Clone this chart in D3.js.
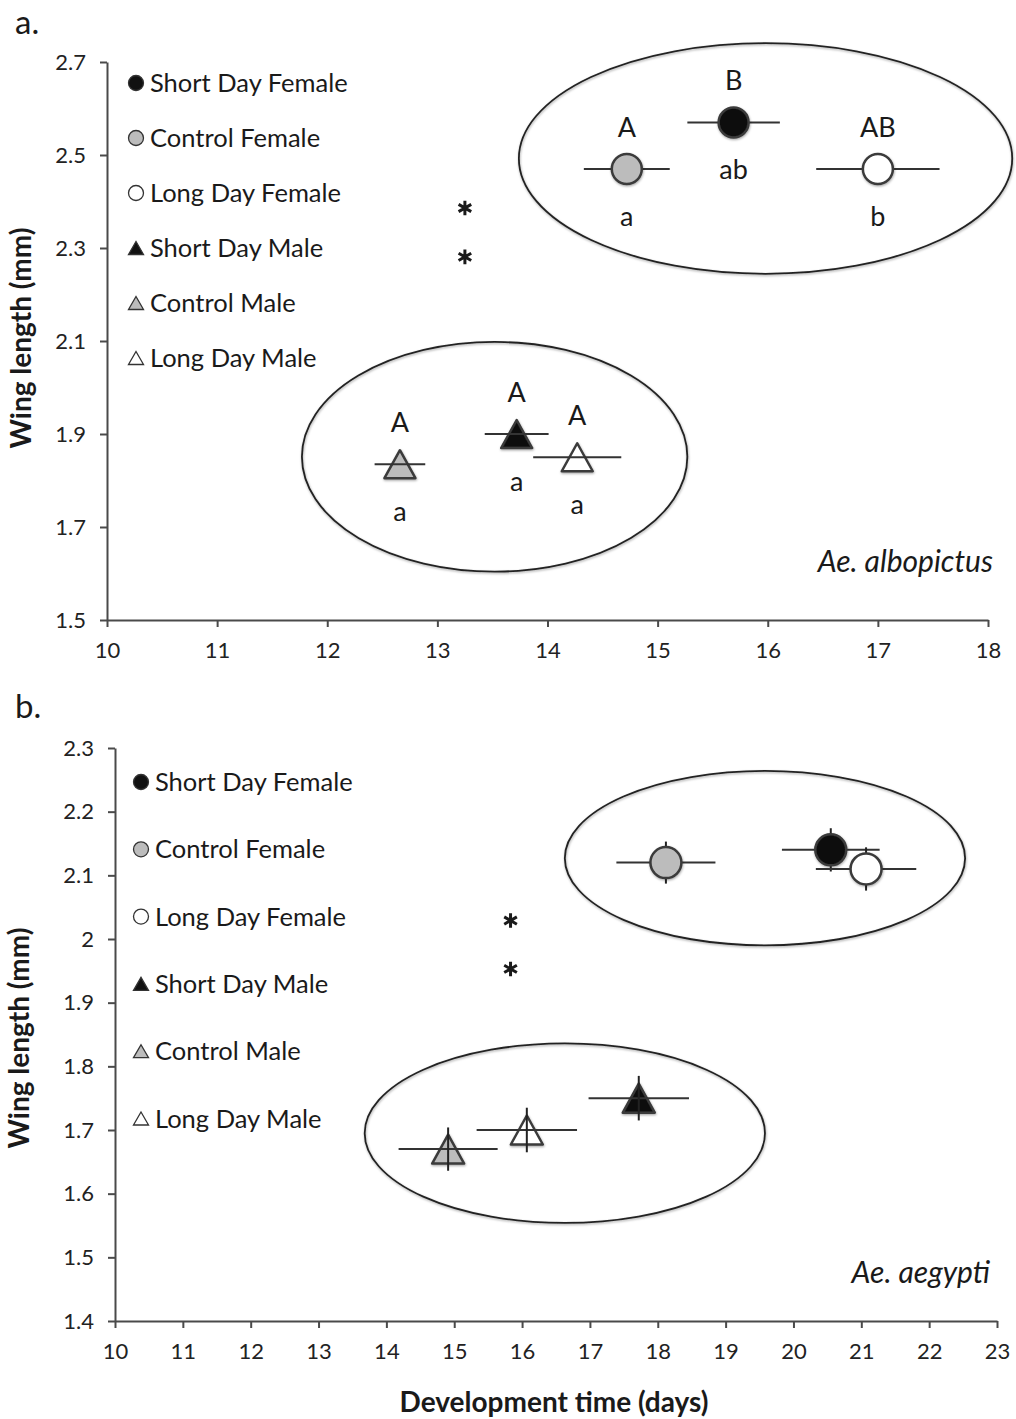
<!DOCTYPE html>
<html>
<head>
<meta charset="utf-8">
<script src="https://cdn.jsdelivr.net/npm/d3@7"></script>
<style>
  body { margin: 0; background: #fff; }
  svg text { font-family: Lato, "Open Sans", sans-serif; fill: #1a1a1a; }
  .axis path, .axis line { stroke: #4a4a4a; stroke-width: 2; }
  .axis text { font-size: 22px; fill: #222; }
</style>
</head>
<body>
<div id="chart"></div>
<script>
// groups, in legend order
const groups = ["Short Day Female", "Control Female", "Long Day Female",
                "Short Day Male", "Control Male", "Long Day Male"];

// a. Ae. albopictus
const alboDevTime = [15.69, 14.72, 17.0, 13.72, 12.66, 14.27];
const alboDevErr  = [0.42, 0.39, 0.56, 0.29, 0.23, 0.40];
const alboWing    = [2.57, 2.47, 2.47, 1.90, 1.835, 1.85];
const alboUpper   = ["B", "A", "AB", "A", "A", "A"];
const alboLower   = ["ab", "a", "b", "a", "a", "a"];
const alboXTicks  = [10, 11, 12, 13, 14, 15, 16, 17, 18];
const alboYTicks  = [1.5, 1.7, 1.9, 2.1, 2.3, 2.5, 2.7];

// b. Ae. aegypti
const aegDevTime = [20.55, 18.12, 21.07, 17.72, 14.91, 16.07];
const aegDevErr  = [0.72, 0.73, 0.74, 0.74, 0.73, 0.74];
const aegWing    = [2.14, 2.12, 2.11, 1.75, 1.67, 1.70];
const aegWingErr = [0.034, 0.033, 0.034, 0.035, 0.034, 0.035];
const aegXTicks  = [10, 11, 12, 13, 14, 15, 16, 17, 18, 19, 20, 21, 22, 23];
const aegYTicks  = [1.4, 1.5, 1.6, 1.7, 1.8, 1.9, 2.0, 2.1, 2.2, 2.3];

const width = 1016, height = 1419;

const svg = d3.select("#chart").append("svg")
  .attr("width", width)
  .attr("height", height);

const defs = svg.append("defs");
defs.append("filter").attr("id", "shadow")
  .attr("x", "-20%").attr("y", "-20%").attr("width", "140%").attr("height", "140%")
  .append("feDropShadow")
  .attr("dx", 0.5).attr("dy", 1.2).attr("stdDeviation", 1.2)
  .attr("flood-color", "#000").attr("flood-opacity", 0.35);

const fillFor = {
  "Short Day Female": "#111", "Control Female": "#bcbcbc", "Long Day Female": "#fff",
  "Short Day Male": "#111", "Control Male": "#bcbcbc", "Long Day Male": "#fff"
};
const isMale = g => g.endsWith("Male") && !g.endsWith("Female");

function triPath(w, h) {
  return `M0,${-h / 2}L${w / 2},${h / 2}L${-w / 2},${h / 2}Z`;
}

const star = d3.symbol(d3.symbolAsterisk, 150);

function drawPanel(p) {
  const x = d3.scaleLinear(p.xDomain, [p.left, p.right]);
  const y = d3.scaleLinear(p.yDomain, [p.bottom, p.top]);

  const pts = groups.map((g, i) => ({
    group: g,
    x: p.dev[i], xe: p.devErr[i],
    y: p.wing[i], ye: p.wingErr ? p.wingErr[i] : 0,
    upper: p.upper ? p.upper[i] : null,
    lower: p.lower ? p.lower[i] : null
  }));

  // panel letter
  svg.append("text")
    .attr("x", 15).attr("y", p.letterY)
    .attr("font-size", 33)
    .text(p.letter);

  // axes
  svg.append("g").attr("class", "axis")
    .attr("transform", `translate(0,${p.bottom})`)
    .call(d3.axisBottom(x).tickValues(p.xTicks).tickSize(7).tickPadding(15).tickSizeOuter(0));

  svg.append("g").attr("class", "axis")
    .attr("transform", `translate(${p.left},0)`)
    .call(d3.axisLeft(y).tickValues(p.yTicks).tickSize(7).tickPadding(14).tickSizeOuter(0)
      .tickFormat(d => String(+d.toFixed(1))));

  svg.append("text")
    .attr("transform", `translate(${p.yTitleX},${p.yTitleY}) rotate(-90)`)
    .attr("text-anchor", "middle")
    .attr("font-size", 28)
    .attr("font-weight", "bold")
    .text("Wing length (mm)");

  // ellipses around sexes
  p.ellipses.forEach(e => {
    svg.append("ellipse")
      .attr("cx", x(e.cx)).attr("cy", y(e.cy))
      .attr("rx", x(e.cx + e.rx) - x(e.cx))
      .attr("ry", y(e.cy) - y(e.cy + e.ry))
      .attr("fill", "none")
      .attr("stroke", "#222")
      .attr("stroke-width", 1.8)
      .attr("filter", "url(#shadow)");
  });

  // asterisks
  svg.selectAll(null).data(p.stars).join("path")
    .attr("d", star)
    .attr("transform", s => `translate(${x(s.x)},${y(s.y)})`)
    .attr("fill", "none")
    .attr("stroke", "#1a1a1a")
    .attr("stroke-width", 3);

  const g = svg.append("g");

  const drawBars = sel => {
    sel.append("line")
      .attr("x1", d => x(d.x - d.xe)).attr("x2", d => x(d.x + d.xe))
      .attr("y1", d => y(d.y)).attr("y2", d => y(d.y))
      .attr("stroke", "#333").attr("stroke-width", 2);
    sel.filter(d => d.ye > 0).append("line")
      .attr("x1", d => x(d.x)).attr("x2", d => x(d.x))
      .attr("y1", d => y(d.y - d.ye)).attr("y2", d => y(d.y + d.ye))
      .attr("stroke", "#222").attr("stroke-width", 2);
  };

  // females: bars below circles
  const fem = g.selectAll(".fem").data(pts.filter(d => !isMale(d.group)))
    .join("g").attr("class", "fem");
  drawBars(fem);
  fem.append("circle")
    .attr("cx", d => x(d.x)).attr("cy", d => y(d.y))
    .attr("r", p.markR)
    .attr("fill", d => fillFor[d.group])
    .attr("stroke", "#3a3a3a").attr("stroke-width", 2.5)
    .attr("filter", "url(#shadow)");

  // males: triangles below bars
  const male = g.selectAll(".male").data(pts.filter(d => isMale(d.group)))
    .join("g").attr("class", "male");
  male.append("path")
    .attr("d", triPath(p.triW, p.triH))
    .attr("transform", d => `translate(${x(d.x)},${y(d.y)})`)
    .attr("fill", d => fillFor[d.group])
    .attr("stroke", "#3a3a3a").attr("stroke-width", 2.5)
    .attr("stroke-linejoin", "round")
    .attr("filter", "url(#shadow)");
  drawBars(male);

  // significance letters
  g.selectAll(".up").data(pts.filter(d => d.upper))
    .join("text").attr("class", "up")
    .attr("x", d => x(d.x)).attr("y", d => y(d.y) - 32)
    .attr("text-anchor", "middle").attr("font-size", 27)
    .text(d => d.upper);
  g.selectAll(".low").data(pts.filter(d => d.lower))
    .join("text").attr("class", "low")
    .attr("x", d => x(d.x)).attr("y", d => y(d.y) + 57)
    .attr("text-anchor", "middle").attr("font-size", 27)
    .text(d => d.lower);

  // legend
  const leg = svg.selectAll(null).data(groups).join("g")
    .attr("transform", (d, i) => `translate(${p.legX},${p.legY + i * p.legStep})`);
  leg.filter(d => !isMale(d)).append("circle")
    .attr("r", 7.5)
    .attr("fill", d => fillFor[d])
    .attr("stroke", "#333").attr("stroke-width", 1.3);
  leg.filter(d => isMale(d)).append("path")
    .attr("d", triPath(15, 13))
    .attr("fill", d => fillFor[d])
    .attr("stroke", "#333").attr("stroke-width", 1.3);
  leg.append("text")
    .attr("x", 14).attr("dy", "0.36em")
    .attr("font-size", 25.5)
    .text(d => d);

  // species
  svg.append("text")
    .attr("x", p.speciesX).attr("y", p.speciesY)
    .attr("text-anchor", "end")
    .attr("font-size", 30)
    .attr("font-style", "italic")
    .text(p.species);
}

drawPanel({
  letter: "a.", letterY: 34,
  xDomain: [10, 18], yDomain: [1.5, 2.7],
  left: 107, right: 988, top: 62, bottom: 620,
  xTicks: alboXTicks, yTicks: alboYTicks,
  dev: alboDevTime, devErr: alboDevErr, wing: alboWing,
  upper: alboUpper, lower: alboLower,
  markR: 15, triW: 31, triH: 28,
  ellipses: [
    { cx: 15.98, cy: 2.4925, rx: 2.24, ry: 0.248 },
    { cx: 13.52, cy: 1.851, rx: 1.75, ry: 0.247 }
  ],
  stars: [{ x: 13.25, y: 2.386 }, { x: 13.25, y: 2.281 }],
  legX: 136, legY: 83, legStep: 55,
  yTitleX: 31, yTitleY: 338,
  species: "Ae. albopictus", speciesX: 993, speciesY: 572
});

drawPanel({
  letter: "b.", letterY: 718,
  xDomain: [10, 23], yDomain: [1.4, 2.3],
  left: 115, right: 997, top: 748, bottom: 1321,
  xTicks: aegXTicks, yTicks: aegYTicks,
  dev: aegDevTime, devErr: aegDevErr, wing: aegWing, wingErr: aegWingErr,
  markR: 15.5, triW: 32, triH: 29,
  ellipses: [
    { cx: 19.58, cy: 2.127, rx: 2.95, ry: 0.137 },
    { cx: 16.63, cy: 1.695, rx: 2.95, ry: 0.141 }
  ],
  stars: [{ x: 15.83, y: 2.029 }, { x: 15.83, y: 1.953 }],
  legX: 141, legY: 782, legStep: 67.3,
  yTitleX: 29, yTitleY: 1038,
  species: "Ae. aegypti", speciesX: 990, speciesY: 1283
});

svg.append("text")
  .attr("x", 554).attr("y", 1412)
  .attr("text-anchor", "middle")
  .attr("font-size", 28)
  .attr("font-weight", "bold")
  .text("Development time (days)");
</script>
</body>
</html>
